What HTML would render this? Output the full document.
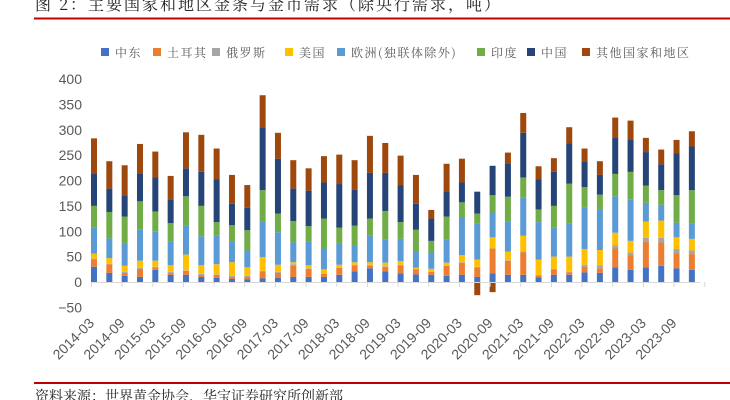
<!DOCTYPE html>
<html><head><meta charset="utf-8"><style>
body{margin:0;background:#fff;width:730px;height:400px;overflow:hidden;font-family:"Liberation Sans","Noto Sans CJK SC",sans-serif;}
svg{display:block}
</style></head><body>
<svg id="chart" width="730" height="400" xmlns="http://www.w3.org/2000/svg">
<text x="35" y="10" font-size="16" fill="#222" font-family="Noto Serif CJK SC, serif" letter-spacing="2">图 2：主要国家和地区金条与金币需求（除央行需求，吨）</text>
<line x1="34" y1="18.5" x2="730" y2="18.5" stroke="#c00000" stroke-width="2"/>
<line x1="34" y1="383" x2="730" y2="383" stroke="#c00000" stroke-width="2"/>
<text x="35" y="401" font-size="14" fill="#222" font-family="Noto Serif CJK SC, serif">资料来源：世界黄金协会，华宝证券研究所创新部</text>
<g id="legend"></g>
<g id="yaxis"></g>
<g id="bars"></g>
<g id="xaxis"></g>
</svg>
<script>
const seriesNames=["中东","土耳其","俄罗斯","美国","欧洲(独联体除外)","印度","中国","其他国家和地区"];
const seriesColors=["#4472C4","#ED7D31","#A5A5A5","#FFC000","#5B9BD5","#70AD47","#264478","#9E480E"];
const categories=[];
for(let y=2014;y<=2023;y++){for(const q of ["03","06","09","12"])categories.push(y+"-"+q);}
const mideast=[30,18,12,10,24,14,14,10,8,6,5,7,8,10,10,10,14,21,27,21,17,15,14,12,14,10,17,14,14,9,14,14,19,18,29,24,29,32,27,24];
const turkey=[15,17,6,16,5,4,8,4,6,4,5,14,10,23,16,6,14,12,5,9,16,10,6,20,24,19,48,28,44,4,11,5,11,9,37,29,50,46,30,31];
const russia=[1,1,2,2,1,2,1,2,1,2,2,1,2,2,1,1,1,1,2,1,1,1,1,1,1,1,1,1,2,1,1,1,4,6,6,5,8,9,8,7];
const usa=[10,11,12,14,12,13,31,17,20,27,17,27,14,4,6,8,5,5,5,7,7,2,5,5,14,14,22,17,31,30,24,30,31,30,25,23,32,34,23,23];
const europe=[52,39,44,61,58,46,58,57,56,41,33,71,64,39,46,41,41,33,53,46,44,32,32,46,75,71,49,59,76,74,58,66,81,79,72,81,37,31,29,31];
const india=[42,52,53,56,39,37,57,60,27,32,40,61,37,42,31,59,32,39,33,56,33,43,23,45,29,20,34,49,39,25,42,78,41,30,44,55,34,29,54,65];
const china=[64,46,42,55,67,47,55,67,84,42,44,124,108,64,70,71,86,71,90,75,73,51,44,50,39,43,58,66,88,59,67,79,51,39,72,64,66,51,83,86];
const others=[69,54,59,58,51,46,71,73,61,57,45,63,51,56,44,52,58,58,73,59,58,57,17,54,47,-26,-20,21,39,26,27,32,25,27,39,37,28,29,26,30];
const seriesData=[mideast,turkey,russia,usa,europe,india,china,others];
const yTicks=[400,350,300,250,200,150,100,50,0,-50];
const NS="http://www.w3.org/2000/svg";
function mk(tag,attrs,parent){const e=document.createElementNS(NS,tag);for(const k in attrs)e.setAttribute(k,attrs[k]);parent.appendChild(e);return e;}
const y0=282, pxPerUnit=0.5075;
function yScale(v){return y0-v*pxPerUnit;}
function xCenter(i){return 94+i*15.33;}
const barW=6;
const yax=document.getElementById('yaxis');
yTicks.forEach(t=>{
 const tx=mk('text',{x:82,y:yScale(t)+5,'text-anchor':'end','font-size':14,fill:'#595959'},yax);
 
 
 tx.textContent=String(t).replace('-','−');
});
const bars=document.getElementById('bars');
categories.forEach((c,i)=>{
 let pos=0,neg=0;
 seriesData.forEach((arr,s)=>{
  const v=arr[i];let yTop,h;
  if(v>=0){yTop=yScale(pos+v);h=v*pxPerUnit;pos+=v;}else{yTop=yScale(neg);h=-v*pxPerUnit;neg+=v;}
  const r=mk('rect',{x:xCenter(i)-barW/2,y:yTop,width:barW,height:h,fill:seriesColors[s]},bars);
  
  
 });
});
const xax=document.getElementById('xaxis');
const axisLine=mk('line',{x1:91,y1:y0+0.5,x2:700,y2:y0+0.5,stroke:'#d9d9d9','stroke-width':1},xax);


for(let k=0;k<=20;k++){
 const tx=91.5+k*30.66;
 const tk=mk('line',{x1:tx,y1:y0,x2:tx,y2:y0+5,stroke:'#d9d9d9'},xax);
 
 
}
categories.forEach((c,i)=>{
 if(c.endsWith('-03')||c.endsWith('-09')){
  const ax=xCenter(i)+1, ay=324;
  const t=mk('text',{x:ax,y:ay,'text-anchor':'end','font-size':14,fill:'#595959',transform:`rotate(-45 ${ax} ${ay})`},xax);
  
  
  t.textContent=c;
 }
});
const lg=document.getElementById('legend');
const legendX=[101,153,212,285,337,477,527,582];
seriesNames.forEach((n,s)=>{
 const g=mk('g',{},lg);
 
 
 mk('rect',{x:legendX[s],y:48,width:8,height:8,fill:seriesColors[s]},g);
 const t=mk('text',{x:legendX[s]+14,y:57,'font-size':12,fill:'#595959','letter-spacing':'1.5','font-family':'Noto Serif CJK SC, serif'},g);
 t.textContent=n;
});
</script>
</body></html>
